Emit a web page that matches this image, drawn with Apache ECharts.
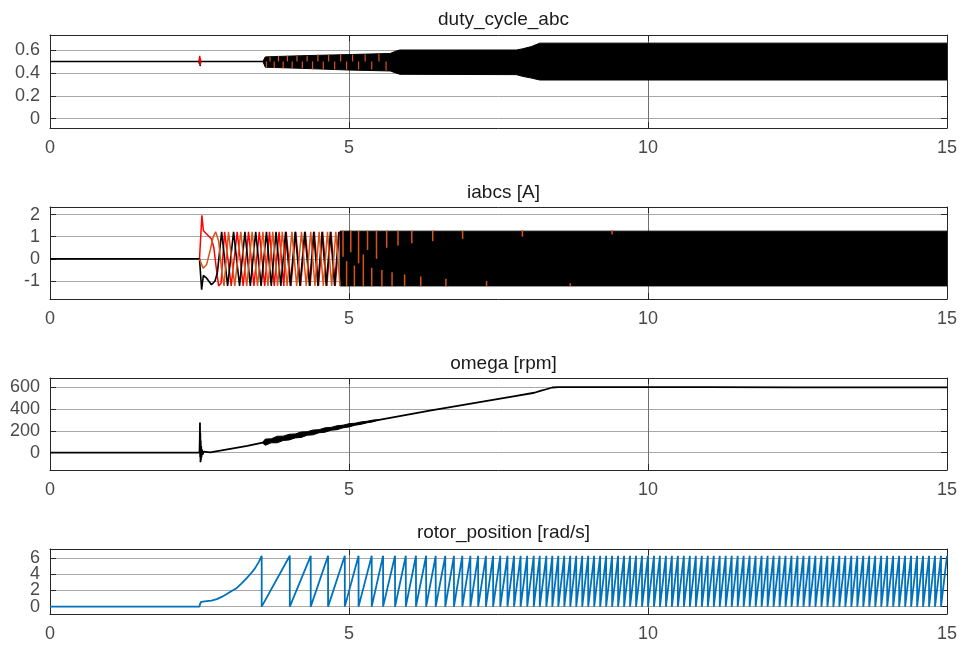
<!DOCTYPE html>
<html>
<head>
<meta charset="utf-8">
<script src="https://cdn.jsdelivr.net/npm/echarts@6/dist/echarts.min.js"></script>
<style>
html,body{margin:0;padding:0;background:#fff;}
#chart{width:962px;height:646px;}
</style>
</head>
<body>
<div id="chart"></div>
<script>
// ---------- shared axis data ----------
const xTicks = [0, 5, 10, 15];
const titles = ['duty_cycle_abc', 'iabcs [A]', 'omega [rpm]', 'rotor_position [rad/s]'];
const yTicksDuty = [0, 0.2, 0.4, 0.6];
const yTicksI = [-1, 0, 1, 2];
const yTicksOmega = [0, 200, 400, 600];
const yTicksRotor = [0, 2, 4, 6];

// ---------- duty_cycle_abc ----------
const dutyBlackT = [0, 2.49, 2.50, 2.505, 2.51, 2.52, 3.56];
const dutyBlackV = [0.5, 0.5, 0.48, 0.53, 0.46, 0.5, 0.5];
const dutyRedT = [2.49, 2.50, 2.505, 2.51, 2.515, 2.52];
const dutyRedV = [0.5, 0.53, 0.55, 0.47, 0.52, 0.5];
const dutyBandT = [3.56, 3.6, 4.2, 5.0, 5.69, 5.78, 5.85, 7.80, 7.90, 8.05, 8.19, 15];
const dutyBandHi = [0.50, 0.54, 0.55, 0.56, 0.57, 0.59, 0.60, 0.60, 0.61, 0.63, 0.66, 0.66];
const dutyBandLo = [0.50, 0.45, 0.44, 0.425, 0.417, 0.40, 0.388, 0.385, 0.37, 0.355, 0.338, 0.338];
const dutySpikeT = [3.62, 3.68, 3.75, 3.82, 3.90, 3.97, 4.05, 4.13, 4.22, 4.30, 4.39, 4.48, 4.57, 4.66, 4.76, 4.86, 4.96, 5.06, 5.16, 5.27, 5.38, 5.50, 5.62];
const dutySpikeLo = [0.45, 0.50, 0.44, 0.50, 0.44, 0.50, 0.44, 0.50, 0.44, 0.50, 0.43, 0.50, 0.43, 0.50, 0.43, 0.50, 0.43, 0.50, 0.43, 0.50, 0.43, 0.50, 0.42];
const dutySpikeHi = [0.50, 0.54, 0.50, 0.55, 0.50, 0.55, 0.50, 0.55, 0.50, 0.55, 0.50, 0.56, 0.50, 0.56, 0.50, 0.56, 0.50, 0.56, 0.50, 0.56, 0.50, 0.57, 0.50];

// ---------- iabcs [A] ----------
const iaT = [0, 2.5, 2.508, 2.536, 2.564, 2.62, 2.70, 2.76, 2.80,
  2.87, 2.97, 3.07, 3.17, 3.26, 3.35, 3.44, 3.53, 3.62, 3.70, 3.78, 3.86, 3.94,
  4.02, 4.10, 4.18, 4.26, 4.34, 4.41, 4.48, 4.55, 4.62, 4.69, 4.76, 4.83];
const iaV = [0, 0, 0, -1.39, -0.75, -0.87, -1.17, -1.0, -0.6,
  1.22, -1.22, 1.22, -1.22, 1.22, -1.22, 1.22, -1.22, 1.22, -1.22, 1.22, -1.22, 1.22,
  -1.22, 1.22, -1.22, 1.22, -1.22, 1.22, -1.22, 1.22, -1.22, 1.22, -1.22, 1.22];
const ibT = [2.5, 2.512, 2.54, 2.565, 2.62, 2.70, 2.74, 2.78, 2.82, 2.86,
  2.92, 3.03, 3.13, 3.23, 3.32, 3.41, 3.50, 3.59, 3.67, 3.75, 3.83, 3.91, 3.95,
  4.03, 4.11, 4.19, 4.27, 4.35, 4.42, 4.49, 4.56, 4.63, 4.70, 4.77, 4.84];
const ibV = [0, 0, 1.97, 1.27, 1.12, 0.9, 0.5, -0.4, -1.22, -1.1,
  1.22, -1.22, 1.22, -1.22, 1.22, -1.22, 1.22, -1.22, 1.22, -1.22, 1.22, -1.22, 1.22,
  -1.22, 1.22, -1.22, 1.22, -1.22, 1.22, -1.22, 1.22, -1.22, 1.22, -1.22, 1.22];
const icT = [2.5, 2.512, 2.56, 2.62, 2.68, 2.73, 2.77, 2.82, 2.87, 2.91,
  2.985, 3.09, 3.19, 3.29, 3.38, 3.47, 3.56, 3.645, 3.725, 3.805, 3.885, 3.965,
  4.045, 4.125, 4.205, 4.285, 4.36, 4.43, 4.50, 4.57, 4.64, 4.71, 4.78, 4.85];
const icV = [0, 0, -0.42, -0.25, 0.4, 1.0, 1.22, 0.8, -0.5, -1.22,
  1.22, -1.22, 1.22, -1.22, 1.22, -1.22, 1.22, -1.22, 1.22, -1.22, 1.22, -1.22,
  1.22, -1.22, 1.22, -1.22, 1.22, -1.22, 1.22, -1.22, 1.22, -1.22, 1.22, -1.22];
const iBandT = [4.85, 15];
const iBandHi = [1.25, 1.25];
const iBandLo = [-1.22, -1.22];
const iSpikeT = [4.90, 4.96, 5.03, 5.09, 5.16, 5.24, 5.31, 5.38, 5.46, 5.55, 5.63, 5.72, 5.82, 5.93, 6.05, 6.20, 6.40, 6.62, 6.90, 7.30, 7.90, 8.70, 9.40];
const iSpikeLo = [0.1, -1.22, 0.3, -1.22, -0.2, -1.22, 0.4, -1.22, 0.0, -1.22, 0.5, -1.22, 0.6, -1.22, 0.7, -1.22, 0.8, -1.22, 0.9, -1.22, 1.0, -1.22, 1.1];
const iSpikeHi = [1.27, -0.1, 1.27, -0.3, 1.27, 0.2, 1.27, -0.4, 1.27, -0.5, 1.27, -0.6, 1.27, -0.7, 1.27, -0.8, 1.27, -0.9, 1.27, -1.0, 1.30, -1.1, 1.30];

// ---------- omega [rpm] ----------
const omegaT = [0, 2.500, 2.505, 2.508, 2.511, 2.514, 2.517, 2.520, 2.524, 2.528, 2.533, 2.54, 2.55, 2.57, 2.60, 2.68,
  3.30, 3.85, 5.00, 6.35, 7.75, 8.10, 8.20, 8.30, 8.40, 8.50, 9.5, 11, 12.5, 15];
const omegaV = [0, 0, 130, 275, -40, 180, -88, 110, -70, 60, -45, 30, -20, 10, 0, 3,
  62, 126, 250, 385, 515, 548, 565, 580, 596, 600, 600, 599, 598, 597];
const omegaNoiseT = [3.55, 3.6, 3.7, 3.8, 3.9, 4.0, 4.1, 4.2, 4.3, 4.4, 4.5, 4.6, 4.7, 4.8, 4.9, 5.0, 5.1, 5.2, 5.3, 5.4, 5.5];
const omegaNoiseHi = [90, 124, 126, 150, 151, 168, 171, 189, 191, 207, 210, 227, 231, 246, 251, 265, 269, 281, 287, 298, 300];
const omegaNoiseLo = [90, 68, 90, 90, 111, 116, 135, 139, 159, 163, 182, 187, 205, 210, 227, 235, 251, 259, 273, 282, 300];

// ---------- rotor_position [rad/s] ----------
const rotorEarlyT = [0, 2.50, 2.51, 2.53, 2.56, 2.62, 2.70, 2.79, 2.87, 2.95, 3.03, 3.12, 3.20, 3.29, 3.36, 3.43, 3.49, 3.54];
const rotorEarlyV = [0, 0, 0.35, 0.6, 0.5, 0.68, 0.75, 0.92, 1.2, 1.53, 1.9, 2.28, 2.85, 3.52, 4.1, 4.76, 5.5, 6.28];
const rotorTop = 6.28;
const rotorWrapT = [3.54, 4.01, 4.36, 4.65, 4.93, 5.16, 5.38, 5.57, 5.77, 5.95, 6.12, 6.29, 6.45, 6.61,
  6.755, 6.895, 7.03, 7.16, 7.29, 7.41, 7.53, 7.65, 7.76, 7.87, 7.98, 8.09, 8.19, 8.30, 8.40,
  8.50, 8.60, 8.70, 8.80, 8.90, 9.00, 9.10, 9.20, 9.30, 9.40, 9.50, 9.60, 9.70, 9.80, 9.90,
  10.00, 10.10, 10.20, 10.30, 10.40, 10.50, 10.60, 10.70, 10.80, 10.90, 11.00, 11.10, 11.20, 11.30,
  11.40, 11.50, 11.60, 11.70, 11.80, 11.90, 12.00, 12.10, 12.20, 12.30, 12.40, 12.50, 12.60, 12.70,
  12.80, 12.90, 13.00, 13.10, 13.20, 13.30, 13.40, 13.50, 13.60, 13.70, 13.80, 13.90, 14.00, 14.10,
  14.20, 14.30, 14.40, 14.50, 14.60, 14.70, 14.80, 14.90, 15.00];

// ---------- helpers ----------
const zip = (t, v) => t.map((x, i) => [x, v[i]]);
const FONT = "'Liberation Sans', Arial, Helvetica, sans-serif";
const BOX = '#262626';
const LABEL = '#4a4a4a';

const panels = [
  { top: 35, height: 93, min: -0.081, max: 0.731, ticks: yTicksDuty, titleTop: 5 },
  { top: 207, height: 92, min: -1.81, max: 2.34, ticks: yTicksI, titleTop: 178 },
  { top: 378, height: 92, min: -159, max: 683, ticks: yTicksOmega, titleTop: 349 },
  { top: 549, height: 65, min: -0.91, max: 7.12, ticks: yTicksRotor, titleTop: 518 }
];

const grid = [], xAxis = [], yAxis = [], title = [];
const yLabelStyle = { show: true, fontFamily: FONT, fontSize: 18, color: LABEL, margin: 10,
  hideOverlap: false, showMinLabel: true, showMaxLabel: true };
panels.forEach((p, i) => {
  // the short last panel has its labels split over two coincident left axes so none get hidden
  const dense = p.height < 80;
  const mainLabels = dense ? p.ticks.filter((v, k) => k % 2 === 0) : p.ticks;
  grid.push({ left: 50, width: 897, top: p.top, height: p.height, outerBoundsMode: 'none', containLabel: false });
  title.push({ text: titles[i], left: 498.5, top: p.titleTop, textAlign: 'center',
    textStyle: { fontFamily: FONT, fontSize: 19, fontWeight: 'normal', color: '#1a1a1a' } });
  xAxis.push({ type: 'value', gridIndex: i, min: 0, max: 15, interval: 5, position: 'bottom',
    axisLine: { show: true, onZero: false, lineStyle: { color: BOX, width: 1 } },
    axisTick: { show: true, inside: true, length: 6, lineStyle: { color: BOX } },
    axisLabel: { show: true, fontFamily: FONT, fontSize: 18, color: LABEL, margin: 11,
      customValues: xTicks, showMinLabel: true, showMaxLabel: true, hideOverlap: false },
    splitLine: { show: true, lineStyle: { color: '#707070', width: 1 } } });
  xAxis.push({ type: 'value', gridIndex: i, min: 0, max: 15, interval: 5, position: 'top',
    axisLine: { show: true, onZero: false, lineStyle: { color: BOX, width: 1 } },
    axisTick: { show: true, inside: true, length: 6, lineStyle: { color: BOX } },
    axisLabel: { show: false }, splitLine: { show: false } });
  yAxis.push({ type: 'value', gridIndex: i, min: p.min, max: p.max, position: 'left',
    axisLine: { show: true, onZero: false, lineStyle: { color: BOX, width: 1 } },
    axisTick: { show: true, inside: true, length: 6, customValues: p.ticks, lineStyle: { color: BOX } },
    axisLabel: Object.assign({}, yLabelStyle, { customValues: mainLabels }),
    splitLine: { show: true, lineStyle: { color: '#a8a8a8', width: 1 } } });
  yAxis.push({ type: 'value', gridIndex: i, min: p.min, max: p.max, position: 'right',
    axisLine: { show: true, onZero: false, lineStyle: { color: BOX, width: 1 } },
    axisTick: { show: true, inside: true, length: 6, customValues: p.ticks, lineStyle: { color: BOX } },
    axisLabel: { show: false }, splitLine: { show: false } });
});
// extra coincident left axis for the rotor panel (labels 2 and 6)
yAxis.push({ type: 'value', gridIndex: 3, min: panels[3].min, max: panels[3].max, position: 'left', offset: 0,
  axisLine: { show: false, onZero: false }, axisTick: { show: false },
  axisLabel: Object.assign({}, yLabelStyle, { customValues: yTicksRotor.filter((v, k) => k % 2 === 1) }),
  splitLine: { show: false } });

function lineSeries(i, t, v, color, width) {
  return { type: 'line', xAxisIndex: 2 * i, yAxisIndex: 2 * i, data: zip(t, v),
    showSymbol: false, symbol: 'none', silent: true, clip: true,
    lineStyle: { color: color, width: width || 1.5 }, z: 3 };
}
function bandSeries(i, t, hi, lo, color) {
  return { type: 'custom', xAxisIndex: 2 * i, yAxisIndex: 2 * i, silent: true, clip: true,
    data: [[t[0], hi[0]]], z: 3,
    renderItem: function (params, api) {
      const pts = [];
      for (let k = 0; k < t.length; k++) pts.push(api.coord([t[k], hi[k]]));
      for (let k = t.length - 1; k >= 0; k--) pts.push(api.coord([t[k], lo[k]]));
      return { type: 'polygon', shape: { points: pts }, style: { fill: color, stroke: color, lineWidth: 1 } };
    } };
}
function spikeSeries(i, t, lo, hi, color, width) {
  return { type: 'custom', xAxisIndex: 2 * i, yAxisIndex: 2 * i, silent: true, clip: true,
    data: t.map((x, k) => [x, lo[k], hi[k]]), encode: { x: 0, y: [1, 2] }, z: 4,
    renderItem: function (params, api) {
      const a = api.coord([api.value(0), api.value(1)]);
      const b = api.coord([api.value(0), api.value(2)]);
      return { type: 'line', shape: { x1: a[0], y1: a[1], x2: b[0], y2: b[1] },
        style: { stroke: color, lineWidth: width || 1.5 } };
    } };
}

// rotor sawtooth from wrap times
const rotorT = rotorEarlyT.slice(), rotorV = rotorEarlyV.slice();
for (let k = 0; k < rotorWrapT.length - 1; k++) {
  rotorT.push(rotorWrapT[k]); rotorV.push(0);
  rotorT.push(rotorWrapT[k + 1]); rotorV.push(rotorTop);
}

const RED = '#ff0000', ORANGE = '#d95319', BLUE = '#0072bd';
const series = [
  // duty
  lineSeries(0, dutyBlackT, dutyBlackV, '#000', 1.5),
  lineSeries(0, dutyRedT, dutyRedV, RED, 1.5),
  bandSeries(0, dutyBandT, dutyBandHi, dutyBandLo, '#000'),
  spikeSeries(0, dutySpikeT, dutySpikeLo, dutySpikeHi, ORANGE, 1.2),
  // iabcs
  lineSeries(1, ibT, ibV, RED, 1.5),
  lineSeries(1, iaT, iaV, '#000', 1.6),
  lineSeries(1, icT, icV, ORANGE, 1.5),
  bandSeries(1, iBandT, iBandHi, iBandLo, '#000'),
  spikeSeries(1, iSpikeT, iSpikeLo, iSpikeHi, ORANGE, 1.5),
  // omega
  lineSeries(2, omegaT, omegaV, '#000', 1.8),
  bandSeries(2, omegaNoiseT, omegaNoiseHi, omegaNoiseLo, '#000'),
  // rotor
  lineSeries(3, rotorT, rotorV, BLUE, 1.8)
];

const chart = echarts.init(document.getElementById('chart'), null, { renderer: 'canvas' });
chart.setOption({ animation: false, backgroundColor: '#fff', title, grid, xAxis, yAxis, series });
</script>
</body>
</html>
